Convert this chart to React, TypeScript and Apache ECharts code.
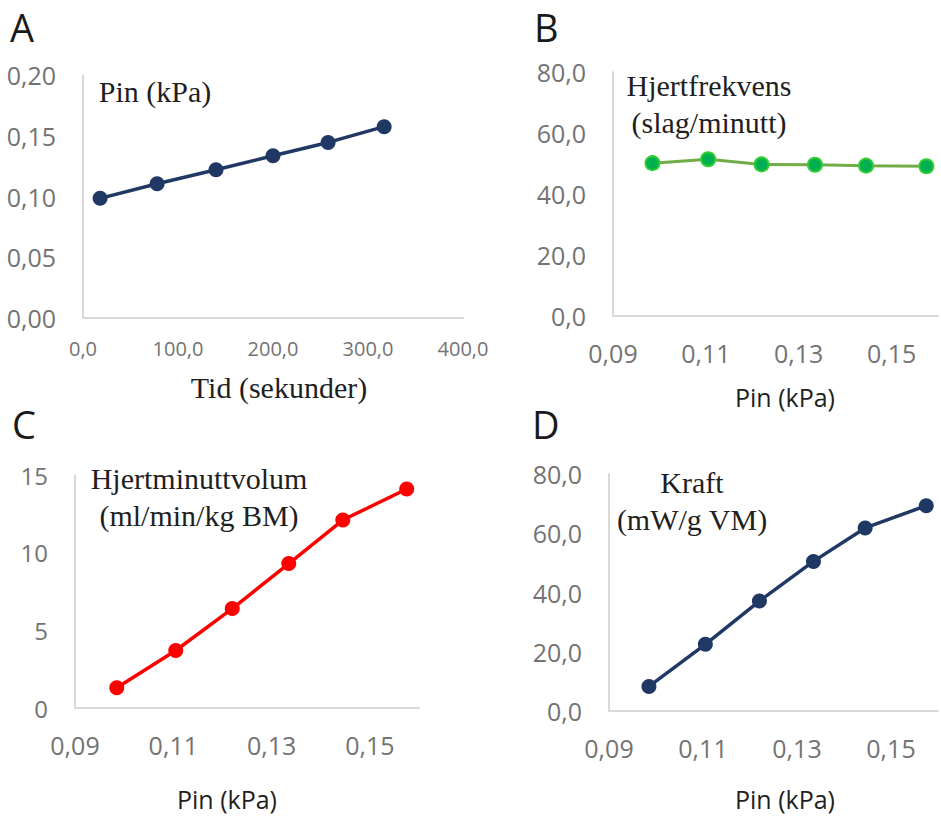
import React, { useEffect, useRef } from "react";
import * as echarts from "echarts";

// Shared x values (inlet pressure, kPa) for panels B, C, D and y values for panel A
const pinKPa = [0.0985, 0.1105, 0.122, 0.1335, 0.1445, 0.1575];
// Panel A x values (time, seconds)
const timeSec = [18, 78, 140, 200, 258, 317];
// Panel B: heart rate (beats/min)
const heartRate = [50.1, 51.4, 49.7, 49.6, 49.3, 49.1];
// Panel C: cardiac output (ml/min/kg BM)
const cardiacOutput = [1.3, 3.7, 6.4, 9.3, 12.1, 14.1];
// Panel D: power (mW/g VM)
const power = [8.3, 22.5, 37.1, 50.5, 61.8, 69.3];

const panelLetters = ["A", "B", "C", "D"];
const plotTitles = [
  "Pin (kPa)",
  "Hjertfrekvens\n(slag/minutt)",
  "Hjertminuttvolum\n(ml/min/kg BM)",
  "Kraft\n(mW/g VM)",
];
const xTitles = ["Tid (sekunder)", "Pin (kPa)", "Pin (kPa)", "Pin (kPa)"];

const comma = (v: number, d: number) => v.toFixed(d).replace(".", ",");

const AXIS_LINE = { show: true, lineStyle: { color: "#d9d9d9", width: 2 } };
const LABEL_COLOR = "#737373";
const SANS = "'Open Sans', sans-serif";
const SERIF = "'Liberation Serif', 'Times New Roman', serif";

export default function App() {
  const ref = useRef<HTMLDivElement>(null);

  useEffect(() => {
    if (!ref.current) return;
    const chart = echarts.init(ref.current, undefined, { renderer: "svg" });

    const pinAxis = (gridIndex: number) => ({
      type: "value" as const,
      gridIndex,
      min: 0.09,
      max: 0.16,
      interval: 0.01,
      axisLine: AXIS_LINE,
      axisTick: { show: false },
      splitLine: { show: false },
      axisLabel: {
        color: LABEL_COLOR,
        fontSize: 25,
        fontFamily: SANS,
        margin: 24,
        formatter: (v: number) => (Math.round(v * 100) % 2 === 1 ? comma(v, 2) : ""),
      },
    });

    const yAxis = (gridIndex: number, max: number, interval: number, dec: number, fs: number) => ({
      type: "value" as const,
      gridIndex,
      min: 0,
      max,
      interval,
      axisLine: AXIS_LINE,
      axisTick: { show: false },
      splitLine: { show: false },
      axisLabel: {
        color: LABEL_COLOR,
        fontSize: fs,
        fontFamily: SANS,
        margin: 27,
        formatter: (v: number) => comma(v, dec),
      },
    });

    const lineSeries = (
      idx: number,
      xs: number[],
      ys: number[],
      lineColor: string,
      markerColor: string,
      lineWidth: number,
      size: number,
      borderColor?: string
    ) => ({
      type: "line" as const,
      xAxisIndex: idx,
      yAxisIndex: idx,
      data: xs.map((x, i) => [x, ys[i]]),
      symbol: "circle",
      symbolSize: size,
      lineStyle: { color: lineColor, width: lineWidth },
      itemStyle: {
        color: markerColor,
        borderColor: borderColor || markerColor,
        borderWidth: borderColor ? 2 : 0,
      },
      z: 3,
    });

    const letterPos = [
      [10, 27],
      [534, 27],
      [12, 424],
      [532, 424],
    ];
    const titlePos = [
      [155, 91],
      [709, 104],
      [199, 497],
      [692, 501],
    ];
    const xTitlePos = [
      [279, 387],
      [785, 397],
      [227, 799],
      [785, 799],
    ];

    const graphics: any[] = [];
    panelLetters.forEach((t, i) => {
      graphics.push({
        type: "text",
        x: letterPos[i][0],
        y: letterPos[i][1],
        style: {
          text: t,
          fontSize: 38,
          fontFamily: SANS,
          fill: "#1a1a1a",
          align: "left",
          verticalAlign: "middle",
        },
      });
    });
    plotTitles.forEach((t, i) => {
      graphics.push({
        type: "text",
        x: titlePos[i][0],
        y: titlePos[i][1],
        z: 10,
        style: {
          text: t,
          fontSize: 30,
          lineHeight: 37,
          fontFamily: SERIF,
          fill: "#1f1f1f",
          align: "center",
          verticalAlign: "middle",
        },
      });
    });
    xTitles.forEach((t, i) => {
      graphics.push({
        type: "text",
        x: xTitlePos[i][0],
        y: xTitlePos[i][1],
        style: {
          text: t,
          fontSize: i === 0 ? 30 : 25,
          fontFamily: i === 0 ? SERIF : SANS,
          fill: "#1f1f1f",
          align: "center",
          verticalAlign: "middle",
        },
      });
    });

    chart.setOption({
      animation: false,
      backgroundColor: "#ffffff",
      grid: [
        { left: 83, top: 75, width: 380, height: 243 },
        { left: 613, top: 72, width: 330, height: 244 },
        { left: 75, top: 475, width: 344, height: 233 },
        { left: 609, top: 474, width: 333, height: 237 },
      ],
      xAxis: [
        {
          type: "value",
          gridIndex: 0,
          min: 0,
          max: 400,
          interval: 100,
          axisLine: AXIS_LINE,
          axisTick: { show: false },
          splitLine: { show: false },
          axisLabel: {
            color: LABEL_COLOR,
            fontSize: 20,
            fontFamily: SANS,
            margin: 20,
            formatter: (v: number) => comma(v, 1),
          },
        },
        pinAxis(1),
        pinAxis(2),
        pinAxis(3),
      ],
      yAxis: [
        yAxis(0, 0.2, 0.05, 2, 25),
        yAxis(1, 80, 20, 1, 25),
        yAxis(2, 15, 5, 0, 24),
        yAxis(3, 80, 20, 1, 25),
      ],
      series: [
        lineSeries(0, timeSec, pinKPa, "#203864", "#203864", 3.5, 15),
        lineSeries(1, pinKPa, heartRate, "#70ad47", "#00b050", 3, 14, "#33cc33"),
        lineSeries(2, pinKPa, cardiacOutput, "#ff0000", "#ff0000", 3.5, 15),
        lineSeries(3, pinKPa, power, "#203864", "#203864", 3.5, 15),
      ],
      graphic: graphics,
    });

    return () => chart.dispose();
  }, []);

  return (
    <div
      ref={ref}
      style={{ position: "absolute", left: 0, top: 0, width: 941, height: 816, background: "#fff" }}
    />
  );
}
